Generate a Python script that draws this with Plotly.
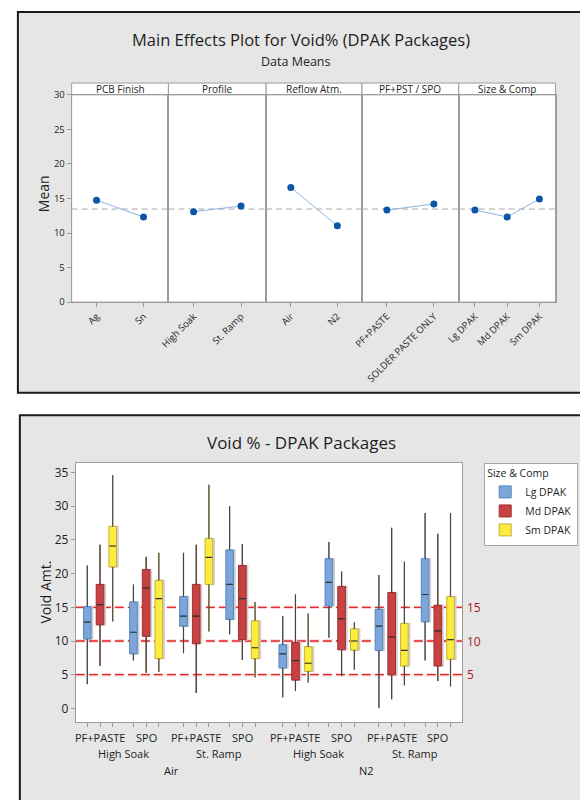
import plotly.graph_objects as go

W, H = 580, 800
FONT = "Open Sans"
GRAY = "#9c9c9c"
TXT = "#1e1e1e"

# ---------------- Main effects (data means) ----------------
factors = ["PCB Finish", "Profile", "Reflow Atm.", "PF+PST / SPO", "Size & Comp"]
levels = [
    ["Ag", "Sn"],
    ["High Soak", "St. Ramp"],
    ["Air", "N2"],
    ["PF+PASTE", "SOLDER PASTE ONLY"],
    ["Lg DPAK", "Md DPAK", "Sm DPAK"],
]
means = [
    [14.75, 12.33],
    [13.09, 13.90],
    [16.60, 11.05],
    [13.33, 14.20],
    [13.33, 12.33, 14.93],
]
grand_mean = 13.47
mean_ticks = [0, 5, 10, 15, 20, 25, 30]

# ---------------- Void % box summaries ----------------
atmospheres = ["Air", "N2"]
profiles = ["High Soak", "St. Ramp"]
pastes = ["PF+PASTE", "SPO"]
sizes = ["Lg DPAK", "Md DPAK", "Sm DPAK"]
# order of the 8 cells: Air/HS/PF, Air/HS/SPO, Air/SR/PF, Air/SR/SPO,
#                       N2/HS/PF,  N2/HS/SPO,  N2/SR/PF,  N2/SR/SPO
lg_low = [3.6, 7.1, 8.2, 11.0, 1.65, 10.5, 0.05, 7.1]
lg_q1 = [10.3, 8.1, 12.2, 13.2, 6.0, 15.2, 8.6, 12.85]
lg_med = [12.8, 11.3, 13.7, 18.4, 8.1, 18.7, 12.2, 16.9]
lg_q3 = [15.1, 15.8, 16.6, 23.5, 9.45, 22.2, 14.7, 22.2]
lg_high = [21.2, 18.4, 23.1, 30.0, 13.7, 24.7, 19.8, 29.0]

md_low = [6.3, 5.3, 2.3, 7.2, 2.6, 4.8, 1.35, 4.05]
md_q1 = [12.4, 10.7, 9.6, 10.2, 4.2, 8.7, 5.0, 6.3]
md_med = [15.4, 17.9, 13.7, 16.3, 7.1, 13.3, 10.6, 11.5]
md_q3 = [18.4, 20.6, 18.4, 21.2, 9.8, 18.1, 17.2, 15.3]
md_high = [24.3, 22.5, 24.3, 24.4, 16.9, 20.3, 26.8, 25.9]

sm_low = [12.9, 5.4, 11.4, 4.6, 3.85, 5.75, 3.4, 3.25]
sm_q1 = [21.0, 7.4, 18.4, 7.4, 5.5, 8.65, 6.3, 7.3]
sm_med = [24.1, 16.3, 22.4, 9.0, 6.7, 10.0, 8.6, 10.2]
sm_q3 = [27.0, 19.0, 25.2, 13.0, 9.15, 11.8, 12.6, 16.6]
sm_high = [34.6, 23.1, 33.2, 15.8, 14.1, 12.8, 21.8, 29.0]

ref_levels = [5, 10, 15]
void_ticks = [0, 5, 10, 15, 20, 25, 30, 35]

size_stats = {
    "Lg DPAK": (lg_low, lg_q1, lg_med, lg_q3, lg_high),
    "Md DPAK": (md_low, md_q1, md_med, md_q3, md_high),
    "Sm DPAK": (sm_low, sm_q1, sm_med, sm_q3, sm_high),
}
size_fill = {"Lg DPAK": "#7aa6d9", "Md DPAK": "#c84242", "Sm DPAK": "#fdeb3d"}
size_edge = {"Lg DPAK": "#5a86bd", "Md DPAK": "#9e2e2e", "Sm DPAK": "#c2b13a"}


def px(x):
    return x / W


def py(y):
    return 1 - y / H


def label(text, x, y, size, xref="paper", yref="paper", **kw):
    d = dict(x=x, y=y, xref=xref, yref=yref, text=text, showarrow=False,
             xanchor="center", yanchor="middle", font=dict(size=size, color=TXT, family=FONT))
    d.update(kw)
    return d


# nested x positions: boxes, then paste, profile and atmosphere gaps
GAP_PASTE, GAP_PROFILE, GAP_ATM = 1.63, 1.94, 2.18
cells = []
positions = {}
xpos, prev = 0.0, None
for a in atmospheres:
    for pr in profiles:
        for pa in pastes:
            if (a, pr, pa) not in cells:
                cells.append((a, pr, pa))
            for s in sizes:
                if prev is not None:
                    if prev[0] != a:
                        xpos += GAP_ATM
                    elif prev[1] != pr:
                        xpos += GAP_PROFILE
                    elif prev[2] != pa:
                        xpos += GAP_PASTE
                    else:
                        xpos += 1.0
                positions[(a, pr, pa, s)] = xpos
                prev = (a, pr, pa, s)

fig = go.Figure()
shapes, annotations = [], []

# panel frames
shapes.append(dict(type="rect", xref="paper", yref="paper", x0=px(5), x1=px(620), y0=py(5), y1=py(392),
                   fillcolor="#e6e6e6", line=dict(color="#1a1a1a", width=2), layer="below"))
shapes.append(dict(type="rect", xref="paper", yref="paper", x0=px(7), x1=px(620), y0=py(415), y1=py(820),
                   fillcolor="#e6e6e6", line=dict(color="#1a1a1a", width=2), layer="below"))

# ---------------- top chart ----------------
panel_edges = [60, 159, 259, 357, 456, 555]
TOP_Y0, TOP_Y1, STRIP_TOP = 300, 89.3, 77.3
layout_axes = {}
for i, (fac, lv, mv) in enumerate(zip(factors, levels, means)):
    n = len(lv)
    k = "" if i == 0 else str(i + 1)
    x0, x1 = panel_edges[i], panel_edges[i + 1]
    shapes.append(dict(type="rect", xref="paper", yref="paper", x0=px(x0), x1=px(x1), y0=py(TOP_Y0), y1=py(STRIP_TOP),
                       fillcolor="white", line=dict(color=GRAY, width=1), layer="below"))
    shapes.append(dict(type="line", xref="paper", yref="paper", x0=px(x0), x1=px(x1), y0=py(TOP_Y1), y1=py(TOP_Y1),
                       line=dict(color=GRAY, width=1), layer="below"))
    annotations.append(label(fac, px((x0 + x1) / 2), py((STRIP_TOP + TOP_Y1) / 2 + 0.5), 10))
    pad = 0.53 if n == 2 else 0.5
    layout_axes["xaxis" + k] = dict(domain=[px(x0), px(x1)], anchor="y" + k, range=[-pad, n - 1 + pad],
                                    tickmode="array", tickvals=list(range(n)), ticktext=lv, tickangle=-45,
                                    ticks="outside", ticklen=4, tickcolor=GRAY, showline=True, linecolor=GRAY,
                                    mirror=True, showgrid=False, zeroline=False, fixedrange=True,
                                    tickfont=dict(size=9.5, color=TXT, family=FONT))
    layout_axes["yaxis" + k] = dict(domain=[py(TOP_Y0), py(TOP_Y1)], anchor="x" + k, range=[0, 30],
                                    tickmode="array", tickvals=mean_ticks, showticklabels=(i == 0),
                                    ticks="outside" if i == 0 else "", ticklen=4, tickcolor=GRAY,
                                    showline=True, linecolor=GRAY, mirror=True, showgrid=False,
                                    zeroline=False, fixedrange=True,
                                    tickfont=dict(size=9.5, color=TXT, family=FONT))
    shapes.append(dict(type="line", xref="x" + k, yref="y" + k, x0=-pad, x1=n - 1 + pad,
                       y0=grand_mean, y1=grand_mean, line=dict(color="#a8a8a8", width=1, dash="6px,4px"),
                       layer="below"))
    fig.add_trace(go.Scatter(x=list(range(n)), y=mv, mode="lines+markers", xaxis="x" + k, yaxis="y" + k,
                             line=dict(color="#8db4e2", width=1),
                             marker=dict(color="#0b56a8", size=7), showlegend=False, hoverinfo="skip"))

annotations.append(label("Main Effects Plot for Void% (DPAK Packages)", px(295), py(33), 16.5))
annotations.append(label("Data Means", px(289), py(55), 12.5))
annotations.append(label("Mean", px(32), py(190), 14, textangle=-90))

# ---------------- bottom chart ----------------
BX0, BX1, BY0, BY1 = 64.3, 459.3, 726.7, 463.3
UNIT = 13.0
first = positions[(atmospheres[0], profiles[0], pastes[0], sizes[0])]
xr = [first - (76 - BX0) / UNIT, first + (BX1 - 76) / UNIT]
shapes.append(dict(type="rect", xref="paper", yref="paper", x0=px(BX0), x1=px(BX1), y0=py(BY0), y1=py(BY1),
                   fillcolor="white", line=dict(width=0), layer="below"))
all_pos = sorted(positions.values())
layout_axes["xaxis6"] = dict(domain=[px(BX0), px(BX1)], anchor="y6", range=xr, tickmode="array",
                             tickvals=all_pos, showticklabels=False, ticks="outside", ticklen=4,
                             tickcolor=GRAY, showline=True, linecolor=GRAY, mirror=True, showgrid=False,
                             zeroline=False, fixedrange=True)
layout_axes["yaxis6"] = dict(domain=[py(BY0), py(BY1)], anchor="x6", range=[-2.0, 36.45], tickmode="array",
                             tickvals=void_ticks, ticks="outside", ticklen=4, tickcolor=GRAY, showline=True,
                             linecolor=GRAY, mirror=True, showgrid=False, zeroline=False, fixedrange=True,
                             tickfont=dict(size=12, color=TXT, family=FONT))

for lvl in ref_levels:
    shapes.append(dict(type="line", xref="x6", yref="y6", x0=xr[0], x1=xr[1], y0=lvl, y1=lvl,
                       line=dict(color="rgba(235,120,120,0.3)", width=3.5, dash="9px,4px"), layer="below"))
    shapes.append(dict(type="line", xref="x6", yref="y6", x0=xr[0], x1=xr[1], y0=lvl, y1=lvl,
                       line=dict(color="#e2262a", width=1.3, dash="9px,4px"), layer="below"))
    annotations.append(dict(x=px(462), y=lvl, xref="paper", yref="y6", xanchor="left", yanchor="middle",
                            showarrow=False, text=str(lvl),
                            font=dict(size=12, color="#a3201f", family=FONT)))

BOX_W = 0.6
SHADOW_DX = 0.12
for s in sizes:
    low, q1, med, q3, high = size_stats[s]
    xs = [positions[(a, pr, pa, s)] for (a, pr, pa) in cells]
    # soft drop shadow behind each box
    fig.add_trace(go.Box(x=[x + SHADOW_DX for x in xs], q1=q1, median=med, q3=q3, lowerfence=q1,
                         upperfence=q3, width=BOX_W, whiskerwidth=0, boxpoints=False,
                         fillcolor="#d2d2d2", line=dict(color="#d2d2d2", width=1.5), xaxis="x6", yaxis="y6",
                         showlegend=False, hoverinfo="skip"))
    fig.add_trace(go.Box(x=xs, q1=q1, median=med, q3=q3, lowerfence=low, upperfence=high, name=s,
                         width=BOX_W, whiskerwidth=0, boxpoints=False, fillcolor=size_fill[s],
                         line=dict(color=size_edge[s], width=1), xaxis="x6", yaxis="y6", hoverinfo="skip"))
    wx, wy, mx, my = [], [], [], []
    for x, lo, a, m, b, hi in zip(xs, low, q1, med, q3, high):
        wx += [x, x, None, x, x, None]
        wy += [lo, a, None, b, hi, None]
        mx += [x - BOX_W / 2 + 0.04, x + BOX_W / 2 - 0.04, None]
        my += [m, m, None]
    fig.add_trace(go.Scatter(x=wx, y=wy, mode="lines", line=dict(color="#444444", width=1.2),
                             xaxis="x6", yaxis="y6", showlegend=False, hoverinfo="skip"))
    fig.add_trace(go.Scatter(x=mx, y=my, mode="lines", line=dict(color="#333333", width=1.2),
                             xaxis="x6", yaxis="y6", showlegend=False, hoverinfo="skip"))

# nested category labels under the box plot
for (a, pr, pa) in cells:
    annotations.append(label(pa, positions[(a, pr, pa, sizes[1])], py(743), 11, xref="x6"))
for a in atmospheres:
    for pr in profiles:
        ps = [positions[(a, pr, pa, s)] for pa in pastes for s in sizes]
        annotations.append(label(pr, (min(ps) + max(ps)) / 2, py(759), 11, xref="x6"))
    ps = [positions[(a, pr, pa, s)] for pr in profiles for pa in pastes for s in sizes]
    annotations.append(label(a, (min(ps) + max(ps)) / 2, py(776), 11, xref="x6"))

annotations.append(label("Void % - DPAK Packages", px(295), py(443), 17))
annotations.append(label("Void Amt.", px(33), py(595), 14, textangle=-90))

fig.update_layout(
    width=W, height=H, margin=dict(l=0, r=0, t=0, b=0),
    paper_bgcolor="white", plot_bgcolor="white", boxmode="overlay",
    font=dict(family=FONT, color=TXT),
    shapes=shapes, annotations=annotations,
    legend=dict(x=px(482), y=py(463.3), xanchor="left", yanchor="top", bgcolor="white",
                bordercolor="#a8a8a8", borderwidth=1, tracegroupgap=0, itemwidth=30,
                title=dict(text="Size & Comp", font=dict(size=10.5, color=TXT, family=FONT)),
                font=dict(size=10.5, color=TXT, family=FONT)),
    **layout_axes,
)

fig.write_html("out.html", post_script="document.body.style.margin = '0';")
